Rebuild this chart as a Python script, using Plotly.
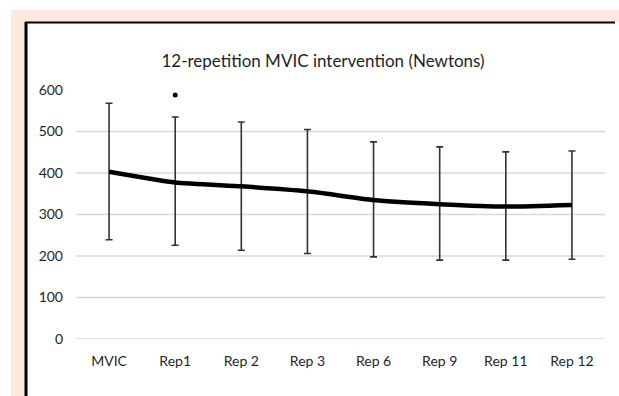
import plotly.graph_objects as go

categories = ["MVIC", "Rep1", "Rep 2", "Rep 3", "Rep 6", "Rep 9", "Rep 11", "Rep 12"]
means = [403, 377, 368, 356, 335, 325, 319, 323]
upper = [568, 535, 523, 505, 475, 463, 451, 453]
lower = [239, 226, 214, 206, 198, 190, 190, 192]
sig_category = ["Rep1"]
sig_value = [588]
y_ticks = [0, 100, 200, 300, 400, 500, 600]
grid_values = [0, 100, 200, 300, 400, 500]
title_text = "12-repetition MVIC intervention (Newtons)"

err_plus = [u - m for u, m in zip(upper, means)]
err_minus = [m - l for m, l in zip(means, lower)]

FONT = "Lato"
TXT = "#1f1f1f"

fig = go.Figure()
fig.add_trace(go.Scatter(
    x=categories, y=means, mode="lines",
    line=dict(color="black", width=4.5, shape="spline", smoothing=0.5),
    error_y=dict(type="data", symmetric=False, array=err_plus, arrayminus=err_minus,
                 color="#333333", thickness=1.6, width=3.5),
    showlegend=False, hoverinfo="skip"))
fig.add_trace(go.Scatter(
    x=sig_category, y=sig_value, mode="markers",
    marker=dict(color="black", size=5, symbol="circle"),
    showlegend=False, hoverinfo="skip"))

# frame geometry (paper coords relative to plot area)
L, R, T, B = 76, 14, 90, 57
W, H = 619, 396
pw, ph = W - L - R, H - T - B
def px(x):
    return (x - L) / pw
def py(y):
    return (H - B - y) / ph

PEACH = "#fce9dc"
shapes = [
    # top peach strip
    dict(type="rect", xref="paper", yref="paper", x0=px(11), x1=px(619), y0=py(22), y1=py(10),
         fillcolor=PEACH, line=dict(width=0), layer="below"),
    # left peach strip
    dict(type="rect", xref="paper", yref="paper", x0=px(11), x1=px(25), y0=py(396), y1=py(10),
         fillcolor=PEACH, line=dict(width=0), layer="below"),
    dict(type="line", xref="paper", yref="paper", x0=px(26), x1=px(26), y0=py(396), y1=py(22),
         line=dict(color="black", width=3), layer="below"),
    dict(type="line", xref="paper", yref="paper", x0=px(25), x1=px(615), y0=py(22.5), y1=py(22.5),
         line=dict(color="black", width=2), layer="below"),
]
for g in grid_values:
    shapes.append(dict(type="line", xref="paper", yref="y", x0=0, x1=1, y0=g, y1=g,
                       line=dict(color="#d9d9d9", width=1.5), layer="below"))

fig.update_layout(
    width=W, height=H,
    margin=dict(l=L, r=R, t=T, b=B, autoexpand=False),
    paper_bgcolor="white", plot_bgcolor="rgba(0,0,0,0)",
    shapes=shapes,
    title=dict(text=title_text, x=px(323), xref="paper", xanchor="center",
               y=1 - 61 / H, yanchor="middle",
               font=dict(family=FONT, size=17, color=TXT)),
    xaxis=dict(type="category", categoryorder="array", categoryarray=categories,
               range=[-0.5, 7.5], showgrid=False, zeroline=False, showline=False,
               ticks="", ticklabelstandoff=12,
               tickfont=dict(family=FONT, size=14, color=TXT)),
    yaxis=dict(range=[0, 600], tickvals=y_ticks, showgrid=False, zeroline=False,
               showline=False, ticks="", ticklabelstandoff=12,
               tickfont=dict(family=FONT, size=14, color=TXT)),
)

fig.write_html("out.html", config={"displayModeBar": False},
               post_script="document.body.style.margin='0';document.body.style.overflow='hidden';")
